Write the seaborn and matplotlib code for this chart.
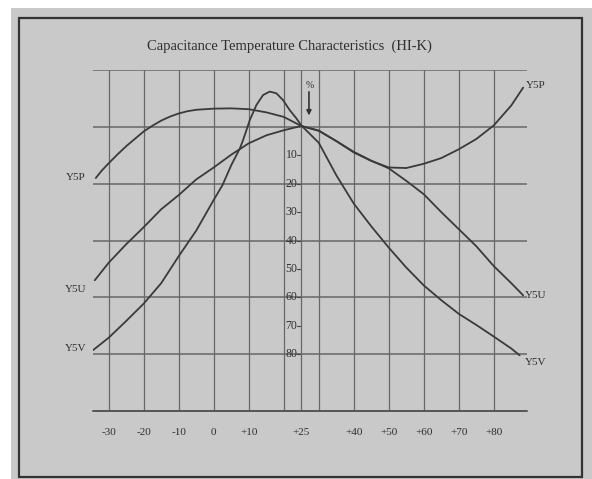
import matplotlib
matplotlib.use("Agg")
import matplotlib.pyplot as plt
from matplotlib.patches import Rectangle
import pandas as pd
import seaborn as sns

# capacitance change (%), temperature in deg C
Y5P_T = [-33.7, -32, -30, -27.5, -25, -22.5, -20, -17.5, -15, -12.5, -10, -7.5, -5,
         0, 5, 10, 15, 20, 25, 30, 35, 40, 45, 50, 55, 60, 65, 70, 75, 80, 85, 88.4]
Y5P_C = [-18, -15.4, -12.8, -9.7, -6.8, -4.2, -1.6, 0.4, 2.2, 3.6, 4.7, 5.5, 6.0,
         6.4, 6.5, 6.2, 5.1, 3.5, 0.3, -1.3, -5, -9, -12, -14.3, -14.5, -13, -11,
         -7.9, -4.3, 0.5, 7.5, 13.8]

Y5U_T = [-34, -30, -25, -20, -15, -10, -5, 0, 5, 10, 15, 20, 25, 30, 35, 40,
         45, 50, 55, 60, 65, 70, 75, 80, 85, 88.4]
Y5U_C = [-54, -47.8, -41.3, -35.3, -29, -24, -18.5, -14.3, -9.8, -5.8, -3, -1.2,
         0.3, -1.4, -5, -8.8, -11.9, -14.6, -19, -23.7, -30, -36, -42, -49, -55, -59.3]

Y5V_T = [-34.5, -30, -25, -20, -15, -10, -5, 0, 2.5, 5, 7.5, 8.4, 10.3, 12.2, 14.1,
         16, 17.9, 19.8, 21.7, 23.6, 25, 30, 35, 40, 45, 50, 55, 60, 65, 70, 75, 80,
         85, 87.4]
Y5V_C = [-78.6, -74.2, -68.3, -62.2, -55, -45.5, -36.5, -25.7, -20.5, -13.5, -7.5,
         -4.6, 2.4, 7.7, 11.2, 12.4, 11.8, 9.4, 5.9, 3.0, 0.5, -5.6, -17, -27, -35,
         -42.5, -49.5, -55.8, -61, -65.8, -69.7, -73.8, -78, -80.4]

GRID_T = [-30, -20, -10, 0, 10, 20, 25, 30, 40, 50, 60, 70, 80]
GRID_C = [20, 0, -20, -40, -60, -80]
XTICKS = [-30, -20, -10, 0, 10, 25, 40, 50, 60, 70, 80]
XTICK_LABELS = ["-30", "-20", "-10", "0", "+10", "+25", "+40", "+50", "+60", "+70", "+80"]
YLABELS = [10, 20, 30, 40, 50, 60, 70, 80]

# curve label positions: (name, left-side y, right-side y)
CURVE_LABELS = [("Y5P", -17.9, 14.7), ("Y5U", -57.2, -59.5), ("Y5V", -77.9, -83.1)]

BG = "#c9c9c9"
INK = "#3a3a3a"
GRID = "#676767"
TEXT = "#2e2e2e"
SERIF = ["Liberation Serif", "DejaVu Serif"]

sns.set_theme(style="white")
plt.rcParams["font.family"] = SERIF

df = pd.concat([
    pd.DataFrame({"temp": Y5P_T, "change": Y5P_C, "type": "Y5P"}),
    pd.DataFrame({"temp": Y5U_T, "change": Y5U_C, "type": "Y5U"}),
    pd.DataFrame({"temp": Y5V_T, "change": Y5V_C, "type": "Y5V"}),
])

W, H = 592, 479
fig = plt.figure(figsize=(W / 100, H / 100), dpi=100, facecolor="white")
fig.patches.append(Rectangle((11 / W, 0), 1, 1 - 8 / H, transform=fig.transFigure,
                             facecolor=BG, edgecolor="none", zorder=-2))
fig.patches.append(Rectangle((19 / W, 2 / H), (582 - 19) / W, (477 - 18) / H,
                             transform=fig.transFigure, facecolor=BG,
                             edgecolor="#333333", linewidth=1.6, zorder=-1))

ax = fig.add_axes([93 / W, (H - 411) / H, (527 - 93) / W, 341 / H])
ax.set_facecolor("none")
ax.set_xlim(-34.5, 89.5)
ax.set_ylim(-100, 20)
for s in ax.spines.values():
    s.set_visible(False)

for t in GRID_T:
    ax.axvline(t, color=GRID, lw=0.9, zorder=1)
for c in GRID_C:
    ax.axhline(c, color=GRID, lw=1.1, zorder=1)
# bottom axis line
ax.axhline(-100, color="#555555", lw=1.4, zorder=1, clip_on=False)

sns.lineplot(data=df, x="temp", y="change", hue="type",
             palette={"Y5P": INK, "Y5U": INK, "Y5V": INK},
             linewidth=1.3, legend=False, ax=ax, zorder=3)

ax.set_xticks(XTICKS, XTICK_LABELS)
ax.set_yticks([])
ax.tick_params(axis="x", length=0, pad=12, labelsize=8, colors=TEXT)
ax.set_xlabel("")
ax.set_ylabel("")

for v in YLABELS:
    ax.text(22.2, -v, str(v), ha="center", va="center", fontsize=8.5, color=TEXT, zorder=4)
    ax.plot([23.7, 24.7], [-v, -v], color="#444444", lw=0.8, zorder=4)

ax.text(27.3, 14.7, "%", ha="center", va="center", fontsize=7, color=TEXT)
ax.annotate("", xy=(27.2, 4.0), xytext=(27.2, 12.3),
            arrowprops=dict(arrowstyle="-|>", color="#333333", lw=1.2,
                            mutation_scale=7, shrinkA=0, shrinkB=0))

for name, yl, yr in CURVE_LABELS:
    ax.text(-39.4, yl, name, ha="center", va="center", fontsize=8,
            color=TEXT, clip_on=False)
    ax.text(91.9, yr, name, ha="center", va="center", fontsize=8,
            color=TEXT, clip_on=False)

fig.text(289 / W, 1 - 46 / H, "Capacitance Temperature Characteristics  (HI-K)",
         ha="center", va="center", fontsize=10.5, color=TEXT)

fig.savefig("out.png", dpi=100, facecolor=fig.get_facecolor())
